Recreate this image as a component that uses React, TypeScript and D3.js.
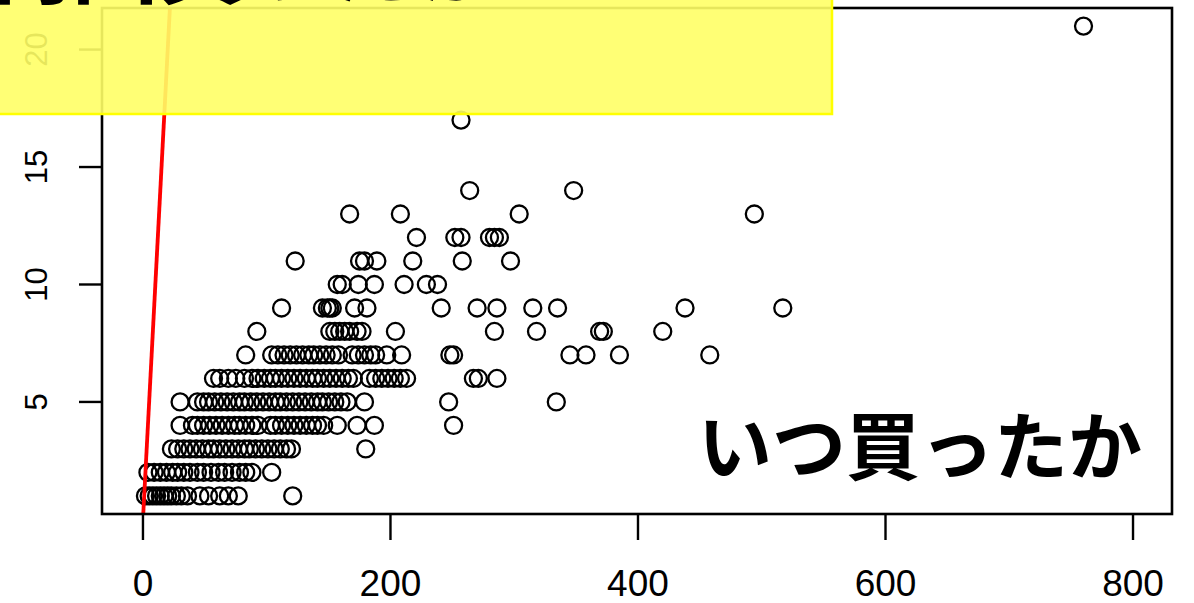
import React from "react";
import * as d3 from "d3";

// Tick labels
const xTicks = [0, 200, 400, 600, 800];
const yTicks = [5, 10, 15, 20];

// Frequency (y) values and the recency (x) values observed at each frequency
const frequencies = [1, 2, 3, 4, 5, 6, 7, 8, 9, 10, 11, 12, 13, 14, 17, 21];
const f1 = [2, 5, 8, 11, 14, 17, 20, 23, 27, 31, 36, 46, 53, 62, 69, 77, 121];
const f2 = [4, 9, 14, 19, 24, 28, 33, 38, 44, 49, 55, 61, 66, 72, 78, 83, 88, 104];
const f3 = [23, 28, 33, 38, 43, 48, 53, 57, 62, 67, 72, 77, 82, 86, 91, 96, 101, 106, 111, 116, 120, 180];
const f4 = [30, 40, 44, 49, 54, 59, 64, 69, 74, 78, 83, 88, 93, 103, 107, 112, 117, 122, 127, 132, 137, 141, 146, 157, 173, 187, 251];
const f5 = [30, 44, 49, 53, 58, 63, 68, 73, 78, 82, 87, 92, 97, 102, 107, 111, 116, 121, 126, 131, 136, 141, 145, 150, 155, 160, 165, 179, 247, 334];
const f6 = [57, 62, 69, 75, 82, 88, 93, 98, 103, 107, 112, 117, 122, 127, 132, 137, 141, 146, 151, 156, 161, 166, 170, 183, 188, 193, 198, 203, 208, 213, 267, 271, 286];
const f7 = [83, 104, 109, 114, 119, 124, 129, 134, 138, 143, 148, 153, 158, 169, 174, 179, 184, 188, 197, 209, 248, 251, 345, 358, 385, 458];
const f8 = [92, 151, 155, 159, 163, 167, 173, 177, 204, 284, 318, 369, 372, 420];
const f9 = [112, 145, 149, 151, 153, 171, 181, 241, 270, 286, 315, 335, 438, 517];
const f10 = [157, 161, 174, 187, 211, 229, 238];
const f11 = [123, 175, 179, 189, 218, 258, 297];
const f12 = [221, 252, 257, 280, 284, 288];
const f13 = [167, 208, 304, 494];
const f14 = [264, 348];
const f17 = [257];
const f21 = [760];
const recencyByFrequency = [f1, f2, f3, f4, f5, f6, f7, f8, f9, f10, f11, f12, f13, f14, f17, f21];

const titleTop = "何回買ったか";
const titleBottom = "いつ買ったか";

const W = 1194;
const H = 603;
const plot = { left: 102, right: 1172, top: 8, bottom: 514 };

export default function App() {
  const x = d3.scaleLinear().domain([-33.1, 831.5]).range([plot.left, plot.right]);
  const y = d3.scaleLinear().domain([0.23, 21.77]).range([plot.bottom, plot.top]);

  const points: { rx: number; fy: number }[] = [];
  frequencies.forEach((f, i) => {
    recencyByFrequency[i].forEach((r) => points.push({ rx: r, fy: f }));
  });

  const lineDom = y.domain();
  const line = d3.line<number>().x((d) => x(d)).y((d) => y(d));

  return (
    <svg
      width={W}
      height={H}
      style={{ position: "absolute", left: 0, top: 0, background: "#fff" }}
      fontFamily="'Liberation Sans', Arial, sans-serif"
    >
      <defs>
        <clipPath id="plotclip">
          <rect x={plot.left} y={plot.top} width={plot.right - plot.left} height={plot.bottom - plot.top} />
        </clipPath>
      </defs>
      <rect x={0} y={0} width={W} height={H} fill="#fff" />

      {/* points */}
      <g clipPath="url(#plotclip)">
        {points.map((p, i) => (
          <circle key={i} cx={x(p.rx)} cy={y(p.fy)} r={8.5} fill="none" stroke="#000" strokeWidth={2.3} />
        ))}
        <path d={line([lineDom[0], lineDom[1]]) || ""} stroke="#ff0000" strokeWidth={3.8} fill="none" />
      </g>

      {/* box */}
      <rect
        x={plot.left}
        y={plot.top}
        width={plot.right - plot.left}
        height={plot.bottom - plot.top}
        fill="none"
        stroke="#000"
        strokeWidth={2.6}
      />

      {/* x axis */}
      {xTicks.map((t) => (
        <g key={"x" + t}>
          <line x1={x(t)} x2={x(t)} y1={plot.bottom} y2={plot.bottom + 26} stroke="#000" strokeWidth={2.4} />
          <text x={x(t)} y={596} textAnchor="middle" fontSize={37} fill="#000">
            {t}
          </text>
        </g>
      ))}

      {/* y axis */}
      {yTicks.map((t) => (
        <g key={"y" + t}>
          <line x1={plot.left - 23} x2={plot.left} y1={y(t)} y2={y(t)} stroke="#000" strokeWidth={2.4} />
          <text
            x={47}
            y={y(t)}
            textAnchor="middle"
            fontSize={31}
            fill="#000"
            transform={`rotate(-90, 47, ${y(t)})`}
          >
            {t}
          </text>
        </g>
      ))}

      {/* annotation */}
      <text
        x={698}
        y={474}
        fontSize={74}
        fontWeight={700}
        fontFamily="'Noto Sans CJK JP', sans-serif"
        fill="#000"
      >
        {titleBottom}
      </text>

      {/* yellow highlight */}
      <rect x={-3} y={-3} width={835} height={117} fill="#ffff66" fillOpacity={0.9} stroke="#ffff00" strokeWidth={2.5} />
      <text
        x={-14}
        y={-3}
        fontSize={86}
        fontWeight={700}
        fontFamily="'Noto Sans CJK JP', sans-serif"
        fill="#000"
      >
        {titleTop}
      </text>
    </svg>
  );
}
